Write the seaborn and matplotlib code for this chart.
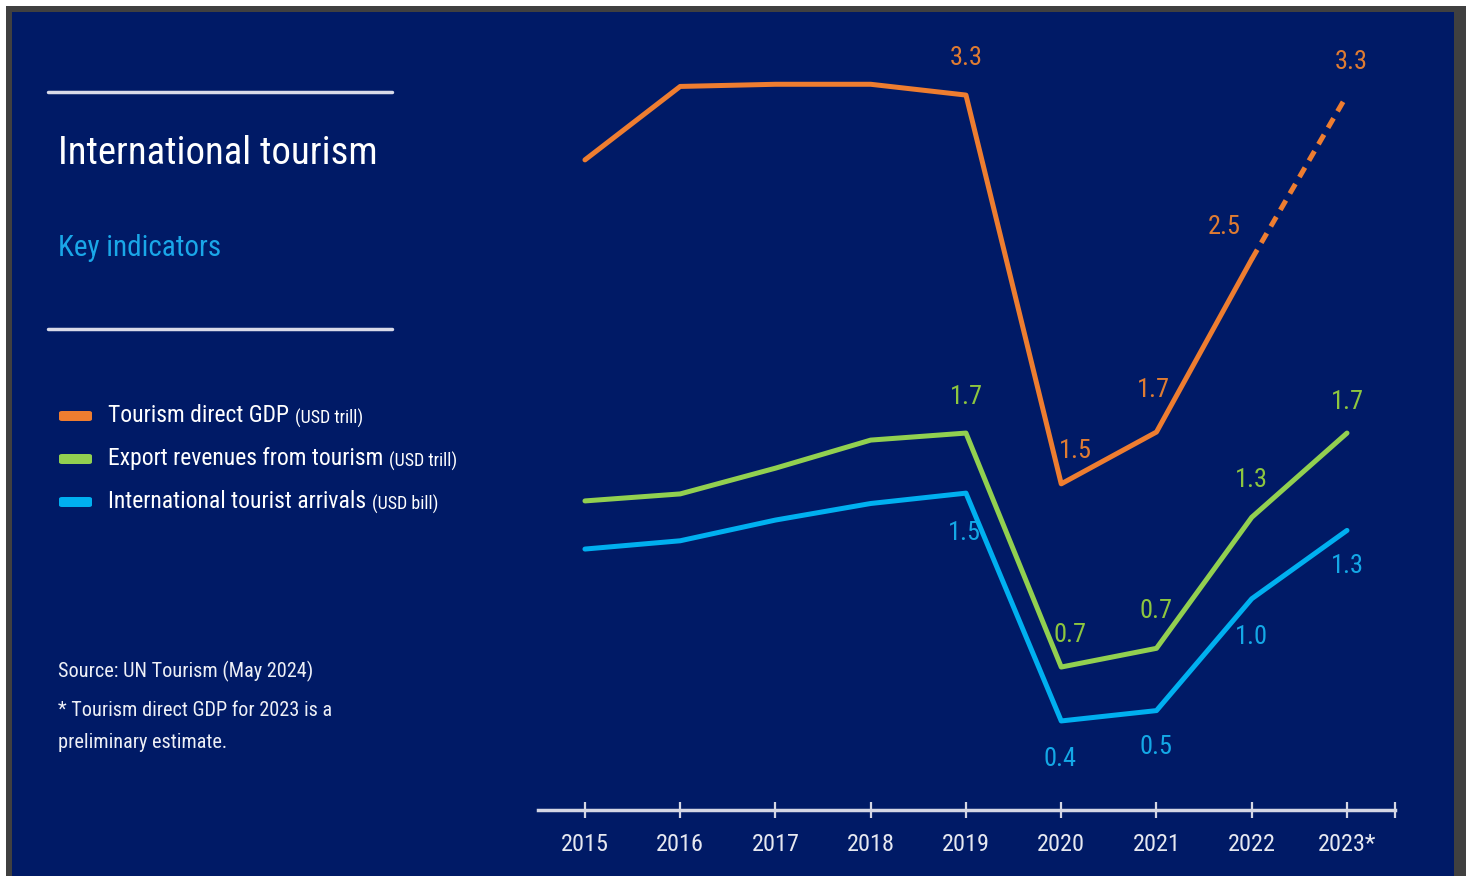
import matplotlib
matplotlib.use("Agg")
import matplotlib.pyplot as plt
import seaborn as sns
import pandas as pd
from matplotlib.patches import Rectangle, FancyBboxPatch
from matplotlib.lines import Line2D

# data
years = ["2015", "2016", "2017", "2018", "2019", "2020", "2021", "2022", "2023*"]
gdp = [3.0, 3.34, 3.35, 3.35, 3.3, 1.5, 1.74, 2.54, 3.3]
exports = [1.41, 1.44, 1.55, 1.67, 1.7, 0.7, 0.78, 1.34, 1.7]
arrivals = [1.23, 1.27, 1.37, 1.45, 1.5, 0.4, 0.45, 0.99, 1.32]
gdp_labels = ["", "", "", "", "3.3", "1.5", "1.7", "2.5", "3.3"]
exports_labels = ["", "", "", "", "1.7", "0.7", "0.7", "1.3", "1.7"]
arrivals_labels = ["", "", "", "", "1.5", "0.4", "0.5", "1.0", "1.3"]

W, H = 1466, 876
NAVY = "#001a66"
ORANGE = "#ee7d30"
GREEN = "#92d050"
BLUE = "#00b0f0"
FONT = ["Roboto Condensed", "Liberation Sans", "DejaVu Sans"]

sns.set_theme(style="white")
plt.rcParams["font.family"] = FONT
plt.rcParams["font.stretch"] = "condensed"
plt.rcParams["xtick.bottom"] = True

fig = plt.figure(figsize=(W / 100, H / 100), dpi=100, facecolor="white")


def fx(x):
    return x / W


def fy(y):
    return 1 - y / H


# frame and background
fig.patches.append(Rectangle((fx(6), 0), fx(W - 6), fy(6), transform=fig.transFigure,
                             facecolor="#404040", edgecolor="none", zorder=-3))
fig.patches.append(Rectangle((fx(12), 0), fx(1454 - 12), fy(12), transform=fig.transFigure,
                             facecolor=NAVY, edgecolor="none", zorder=-2))

df = pd.DataFrame({"x": range(len(years)), "gdp": gdp, "exports": exports, "arrivals": arrivals})

rect = [fx(538), fy(810), fx(1395 - 538), (810 - 40) / H]
ax = fig.add_axes(rect)
ax2 = ax.twinx()
ax3 = ax.twinx()
for a in (ax, ax2, ax3):
    a.set_facecolor("none")
    a.set_xlim(-0.493, 8.504)
    for s in a.spines.values():
        s.set_visible(False)
    a.set_yticks([])
    a.set_ylabel("")

ax.set_ylim(-0.010, 3.555)
ax2.set_ylim(0.089, 3.380)
ax3.set_ylim(-0.030, 3.688)

lw = 3.6
# orange: solid up to 2022, dashed to 2023
sns.lineplot(data=df.iloc[:8], x="x", y="gdp", ax=ax, color=ORANGE, lw=lw, legend=False)
sns.lineplot(data=df.iloc[7:], x="x", y="gdp", ax=ax, color=ORANGE, lw=lw,
             linestyle=(0, (2.2, 1.6)), legend=False)
sns.lineplot(data=df, x="x", y="exports", ax=ax2, color=GREEN, lw=lw, legend=False)
sns.lineplot(data=df, x="x", y="arrivals", ax=ax3, color=BLUE, lw=lw, legend=False)

# label offsets in pixels
gdp_off = [(0, 0)] * 4 + [(0, 37), (14, 33), (-3, 42), (-27, 32), (4, 33)]
exp_off = [(0, 0)] * 4 + [(0, 36), (9, 32), (0, 37), (0, 37), (0, 31)]
arr_off = [(0, 0)] * 4 + [(-2, -40), (-1, -38), (0, -36), (0, -38), (0, -36)]

for a, vals, labs, offs, col in [
    (ax, gdp, gdp_labels, gdp_off, "#e07c32"),
    (ax2, exports, exports_labels, exp_off, "#8dc63f"),
    (ax3, arrivals, arrivals_labels, arr_off, "#14a8e6"),
]:
    for i, (v, lab, off) in enumerate(zip(vals, labs, offs)):
        if lab:
            a.annotate(lab, (i, v), xytext=off, textcoords="offset pixels",
                       ha="center", va="center", fontsize=19, color=col)

# x axis
for a in (ax2, ax3):
    a.set_xticks([])
ax.spines["bottom"].set_visible(True)
ax.spines["bottom"].set_color("#d4d6e4")
ax.spines["bottom"].set_linewidth(2.5)
ax.set_xticks(list(range(len(years))) + [8.504])
ax.set_xticklabels(years + [""], color="#e6e8f0", fontsize=17.5)
ax.tick_params(axis="x", bottom=True, direction="inout", length=11, width=1.6,
               color="#d4d6e4", pad=11)
ax.set_xlabel("")

# left panel
for yy in (92, 329):
    fig.add_artist(Line2D([fx(48), fx(392)], [fy(yy), fy(yy)], color="#d8dae8", lw=2.5,
                          transform=fig.transFigure))
fig.text(fx(58), fy(154), "International tourism", color="white", fontsize=28,
         va="center", ha="left")
fig.text(fx(58), fy(248), "Key indicators", color="#1aa7e8", fontsize=21,
         va="center", ha="left")

legend_items = [
    ("Tourism direct GDP", "(USD trill)", ORANGE, 416),
    ("Export revenues from tourism", "(USD trill)", GREEN, 459),
    ("International tourist arrivals", "(USD bill)", BLUE, 502),
]
mains = []
for main, unit, col, yy in legend_items:
    fig.patches.append(FancyBboxPatch((fx(59), fy(yy + 5)), fx(33), 10 / H,
                                      boxstyle="round,pad=0,rounding_size=0.002",
                                      transform=fig.transFigure, facecolor=col,
                                      edgecolor="none"))
    t = fig.text(fx(108), fy(yy), main, color="white", fontsize=17, va="center", ha="left")
    mains.append((t, unit, yy))

fig.canvas.draw()
r = fig.canvas.get_renderer()
for t, unit, yy in mains:
    bb = t.get_window_extent(renderer=r)
    fig.text((bb.x1 + 6) / W, fy(yy + 2), unit, color="white", fontsize=13,
             va="center", ha="left")

fig.text(fx(58), fy(671), "Source: UN Tourism (May 2024)", color="#eef0f6", fontsize=14.6,
         va="center", ha="left")
fig.text(fx(58), fy(711), "* Tourism direct GDP for 2023 is a", color="#eef0f6",
         fontsize=14.6, va="center", ha="left")
fig.text(fx(58), fy(742), "preliminary estimate.", color="#eef0f6", fontsize=14.6,
         va="center", ha="left")

fig.savefig("out.png", dpi=100, facecolor=fig.get_facecolor())
